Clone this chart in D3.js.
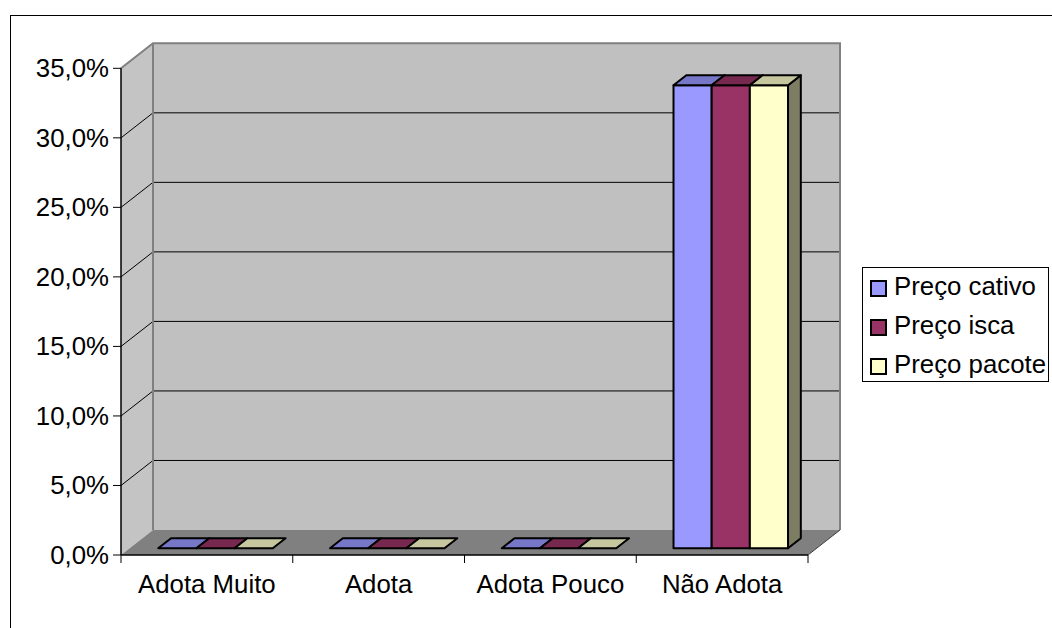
<!DOCTYPE html>
<html>
<head>
<meta charset="utf-8">
<script src="https://cdn.jsdelivr.net/npm/d3@7"></script>
<style>
  html, body { margin: 0; padding: 0; background: #fff; }
  svg { display: block; }
  text { font-family: "Liberation Sans", Arial, sans-serif; fill: #000; }
</style>
</head>
<body>
<svg id="chart" width="1052" height="628"></svg>
<script>
// Data
const categories = ["Adota Muito", "Adota", "Adota Pouco", "Não Adota"];
const seriesNames = ["Preço cativo", "Preço isca", "Preço pacote"];
const precoCativo = [0, 0, 0, 33.3];
const precoIsca = [0, 0, 0, 33.3];
const precoPacote = [0, 0, 0, 33.3];
const yTicks = [0, 5, 10, 15, 20, 25, 30, 35];
const seriesValues = [precoCativo, precoIsca, precoPacote];
const seriesColors = ["#9999FF", "#993366", "#FFFFCC"];

const svg = d3.select("#chart");

// Plot geometry (front plane) and oblique depth vector
const front = { left: 121, right: 808, bottom: 555, top: 68.3 };
const depth = { dx: 32, dy: -25 };
const barDepth = [0.27, 0.67];
const P = (x, y, f) => [x + depth.dx * f, y + depth.dy * f];

const x = d3.scaleBand().domain(categories).range([front.left, front.right]);
const xs = d3.scaleBand().domain(seriesNames).range([0, x.bandwidth()])
  .paddingOuter(0.75).paddingInner(0);
const y = d3.scaleLinear().domain([0, 35]).range([front.bottom, front.top]);

const poly = pts => "M" + pts.map(p => p.join(",")).join("L") + "Z";
const fontSize = 25.8;

// Outer chart frame
svg.append("rect")
  .attr("x", 10.5).attr("y", 15.5).attr("width", 1100).attr("height", 700)
  .attr("fill", "#fff").attr("stroke", "#000").attr("stroke-width", 1);

const g = svg.append("g");

// Back wall
const bw = [P(front.left, y(35), 1), P(front.right, y(35), 1), P(front.right, y(0), 1), P(front.left, y(0), 1)];
g.append("path").attr("d", poly(bw)).attr("fill", "#C0C0C0");

// Side wall
const sw = [[front.left, y(35)], P(front.left, y(35), 1), P(front.left, y(0), 1), [front.left, y(0)]];
g.append("path").attr("d", poly(sw)).attr("fill", "#C4C4C4");

// Floor
const fl = [[front.left, y(0)], P(front.left, y(0), 1), P(front.right, y(0), 1), [front.right, y(0)]];
g.append("path").attr("d", poly(fl)).attr("fill", "#808080");

// Gridlines on side and back walls
yTicks.filter(t => t > 0 && t < 35).forEach(t => {
  const a = [front.left, y(t)], b = P(front.left, y(t), 1), c = P(front.right, y(t), 1);
  g.append("path").attr("d", `M${a}L${b}L${c}`)
    .attr("fill", "none").attr("stroke", "#000").attr("stroke-width", 1);
});

// Wall edges
g.append("path")
  .attr("d", `M${[front.left, y(35)]}L${P(front.left, y(35), 1)}L${P(front.right, y(35), 1)}L${P(front.right, y(0), 1)}`)
  .attr("fill", "none").attr("stroke", "#808080").attr("stroke-width", 2);
g.append("path")
  .attr("d", `M${P(front.left, y(35), 1)}L${P(front.left, y(0), 1)}`)
  .attr("fill", "none").attr("stroke", "#808080").attr("stroke-width", 2);
g.append("path")
  .attr("d", `M${[front.right, y(0)]}L${P(front.right, y(0), 1)}`)
  .attr("fill", "none").attr("stroke", "#404040").attr("stroke-width", 1);

// Bars (drawn left to right so each bar covers its neighbour's side face)
const shade = (c, k) => d3.rgb(c).darker(k).formatHex();
categories.forEach((cat, ci) => {
  seriesNames.forEach((s, si) => {
    const v = seriesValues[si][ci];
    const x0 = x(cat) + xs(s), x1 = x0 + xs.bandwidth();
    const y0 = y(0), y1 = y(v);
    const [f0, f1] = barDepth;
    const frontFace = [P(x0, y1, f0), P(x1, y1, f0), P(x1, y0, f0), P(x0, y0, f0)];
    const topFace = [P(x0, y1, f0), P(x0, y1, f1), P(x1, y1, f1), P(x1, y1, f0)];
    const sideFace = [P(x1, y1, f0), P(x1, y1, f1), P(x1, y0, f1), P(x1, y0, f0)];
    const col = seriesColors[si];
    const bar = g.append("g").attr("stroke", "#000").attr("stroke-width", 2).attr("stroke-linejoin", "round");
    if (v > 0) {
      bar.append("path").attr("d", poly(sideFace)).attr("fill", shade(col, 2.0));
      bar.append("path").attr("d", poly(frontFace)).attr("fill", col);
    }
    bar.append("path").attr("d", poly(topFace)).attr("fill", shade(col, 0.7));
  });
});

// Axes lines
g.append("line").attr("x1", front.left).attr("x2", front.left)
  .attr("y1", y(35)).attr("y2", y(0)).attr("stroke", "#000").attr("stroke-width", 1.5);
g.append("line").attr("x1", front.left).attr("x2", front.right)
  .attr("y1", y(0)).attr("y2", y(0)).attr("stroke", "#000").attr("stroke-width", 1.5);

// Y axis ticks and labels
const fmt = t => d3.format(".1f")(t).replace(".", ",") + "%";
const yAxis = g.append("g");
yTicks.forEach(t => {
  yAxis.append("line").attr("x1", front.left - 8).attr("x2", front.left)
    .attr("y1", y(t)).attr("y2", y(t)).attr("stroke", "#000").attr("stroke-width", 1);
  yAxis.append("text").attr("x", 109).attr("y", y(t) + 9)
    .attr("text-anchor", "end").attr("font-size", fontSize).text(fmt(t));
});

// X axis ticks and labels
const boundaries = categories.map(c => x(c)).concat([front.right]);
boundaries.forEach(bx => {
  g.append("line").attr("x1", bx).attr("x2", bx)
    .attr("y1", y(0)).attr("y2", y(0) + 8).attr("stroke", "#000").attr("stroke-width", 1);
});
categories.forEach(c => {
  g.append("text").attr("x", x(c) + x.bandwidth() / 2).attr("y", 593)
    .attr("text-anchor", "middle").attr("font-size", fontSize).text(c);
});

// Legend
const legend = svg.append("g");
legend.append("rect").attr("x", 862.5).attr("y", 267.5).attr("width", 186).attr("height", 114)
  .attr("fill", "#fff").attr("stroke", "#000").attr("stroke-width", 1);
seriesNames.forEach((s, i) => {
  const ly = 295 + i * 39;
  legend.append("rect").attr("x", 871).attr("y", ly - 14).attr("width", 15).attr("height", 15)
    .attr("fill", seriesColors[i]).attr("stroke", "#000").attr("stroke-width", 2);
  legend.append("text").attr("x", 894).attr("y", ly).attr("font-size", fontSize).text(s);
});
</script>
</body>
</html>
